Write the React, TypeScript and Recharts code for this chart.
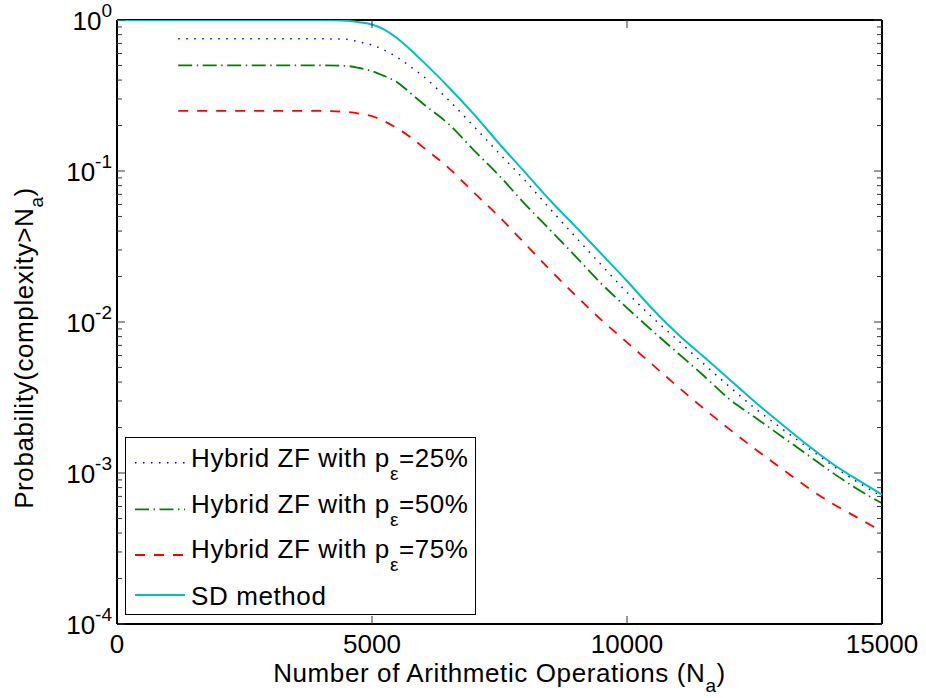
import React from 'react'
import { LineChart, Line, XAxis, YAxis, Legend } from 'recharts'

// number of arithmetic operations (x)
const ops = [
  0, 500, 1000, 1200, 1500, 2000, 2500, 3000, 3500, 4000, 4500, 4750, 5000, 5250, 5500, 5750,
  6000, 6500, 7000, 7500, 8000, 8500, 9000, 9500, 10000, 10500, 11000, 11500, 12000, 12500,
  13000, 13500, 14000, 14500, 15000,
]

const sdMethod = [
  1, 1, 1, 1, 1, 1, 1, 1, 1, 1, 0.988, 0.967, 0.933, 0.859, 0.754, 0.638, 0.53, 0.36, 0.237,
  0.151, 0.098, 0.0635, 0.0425, 0.0282, 0.0187, 0.0122, 0.0083, 0.0059, 0.0042, 0.00298, 0.00215,
  0.00157, 0.00117, 0.00091, 0.00072,
]

const hybrid25 = [
  null, null, null, 0.75, 0.75, 0.75, 0.75, 0.75, 0.75, 0.75, 0.745, 0.715, 0.683, 0.63, 0.565,
  0.492, 0.425, 0.295, 0.197, 0.13, 0.0865, 0.0557, 0.0363, 0.0238, 0.0157, 0.0107, 0.00755,
  0.0053, 0.00375, 0.0027, 0.00201, 0.00151, 0.00114, 0.00088, 0.0007,
]

const hybrid50 = [
  null, null, null, 0.5, 0.5, 0.5, 0.5, 0.5, 0.5, 0.5, 0.496, 0.481, 0.459, 0.424, 0.386, 0.329,
  0.279, 0.205, 0.137, 0.0927, 0.0604, 0.0405, 0.027, 0.0179, 0.0124, 0.00873, 0.00621, 0.00442,
  0.0031, 0.00235, 0.00178, 0.00135, 0.00102, 0.00079, 0.00063,
]

const hybrid75 = [
  null, null, null, 0.25, 0.25, 0.25, 0.25, 0.25, 0.25, 0.25, 0.246, 0.24, 0.231, 0.213, 0.191,
  0.168, 0.144, 0.105, 0.0719, 0.0495, 0.033, 0.022, 0.0149, 0.0103, 0.00733, 0.00522, 0.00372,
  0.00268, 0.00196, 0.00145, 0.00109, 0.00082, 0.000635, 0.00051, 0.00041,
]

const xTicks = [0, 5000, 10000, 15000]
const yMajorTicks = [1e-4, 1e-3, 1e-2, 1e-1, 1]
const yMinorTicks = [1e-4, 1e-3, 1e-2, 1e-1].flatMap((d) => [2, 3, 4, 5, 6, 7, 8, 9].map((m) => m * d))
const yTicks = [...yMajorTicks, ...yMinorTicks].sort((a, b) => a - b)

const legendRows = [
  { label: 'Hybrid ZF with p', sub: 'ε', rest: '=25%', color: '#0000FF', dash: '1.5 6.5', width: 1.5 },
  { label: 'Hybrid ZF with p', sub: 'ε', rest: '=50%', color: '#008000', dash: '14 4.5 1.5 4.5', width: 1.8 },
  { label: 'Hybrid ZF with p', sub: 'ε', rest: '=75%', color: '#FF0000', dash: '10 9', width: 1.8 },
  { label: 'SD method', sub: '', rest: '', color: '#00BFBF', dash: undefined, width: 2 },
]

const data = ops.map((x, i) => ({
  x,
  sd: sdMethod[i],
  h25: hybrid25[i],
  h50: hybrid50[i],
  h75: hybrid75[i],
}))

const W = 926
const H = 698
const MARGIN = { top: 20, right: 44, bottom: 0, left: 0 }
const PLOT_TOP = MARGIN.top
const PLOT_RIGHT = W - MARGIN.right

const FONT = '"Liberation Sans", Arial, Helvetica, sans-serif'
const SPACING = 0.6
const TICK_COLOR = '#333'

function EmptyTick() {
  return <g />
}

function XTick(props: any) {
  const { x, y, payload } = props
  const inner = payload.value !== xTicks[0] && payload.value !== xTicks[xTicks.length - 1]
  return (
    <g>
      {inner && (
        <>
          <line x1={x} x2={x} y1={y} y2={y - 8} stroke={TICK_COLOR} strokeWidth={1} />
          <line x1={x} x2={x} y1={PLOT_TOP} y2={PLOT_TOP + 8} stroke={TICK_COLOR} strokeWidth={1} />
        </>
      )}
      <text x={x} y={y + 29} textAnchor="middle" fontSize={26} fontFamily={FONT} fill="#000">
        {payload.value}
      </text>
    </g>
  )
}

function YTick(props: any) {
  const { x, y, payload } = props
  const major = yMajorTicks.includes(payload.value)
  const len = major ? 8 : 5
  const exp = Math.round(Math.log10(payload.value))
  return (
    <g>
      <line x1={x} x2={x + len} y1={y} y2={y} stroke={TICK_COLOR} strokeWidth={1} />
      <line x1={PLOT_RIGHT} x2={PLOT_RIGHT - len} y1={y} y2={y} stroke={TICK_COLOR} strokeWidth={1} />
      {major && (
        <text x={x - 5} y={y + 10} textAnchor="end" fontSize={26} fontFamily={FONT} fill="#000">
          10
          <tspan dy={-13} fontSize={19}>
            {exp}
          </tspan>
        </text>
      )}
    </g>
  )
}

function XTitle(props: any) {
  const { viewBox } = props
  const cx = viewBox.x + viewBox.width / 2
  const by = viewBox.y + 58
  return (
    <text
      x={cx}
      y={by}
      textAnchor="middle"
      fontSize={26}
      letterSpacing={SPACING}
      fontFamily={FONT}
      fill="#000"
    >
      Number of Arithmetic Operations (N
      <tspan dy={10} fontSize={19}>a</tspan>
      <tspan dy={-10}>)</tspan>
    </text>
  )
}

function YTitle(props: any) {
  const { viewBox } = props
  const cy = viewBox.y + viewBox.height / 2 + 26
  const tx = viewBox.x + 33
  return (
    <text
      x={tx}
      y={cy}
      transform={`rotate(-90 ${tx} ${cy})`}
      textAnchor="middle"
      fontSize={26}
      letterSpacing={SPACING}
      fontFamily={FONT}
      fill="#000"
    >
      Probability(complexity&gt;N
      <tspan dy={10} fontSize={19}>a</tspan>
      <tspan dy={-10}>)</tspan>
    </text>
  )
}

function LegendBox() {
  const lineY = [25.7, 72.3, 118, 158]
  const textY = [29.7, 75.7, 121.3, 168]
  return (
    <svg width={351} height={178} style={{ display: 'block' }}>
      <rect x={0.5} y={0.5} width={350} height={177} fill="#fff" stroke="#000" strokeWidth={1} />
      {legendRows.map((r, i) => (
        <g key={i}>
          <line
            x1={10}
            x2={60}
            y1={lineY[i]}
            y2={lineY[i]}
            stroke={r.color}
            strokeWidth={r.width}
            strokeDasharray={r.dash}
          />
          <text
            x={66}
            y={textY[i]}
            fontSize={26}
            letterSpacing={SPACING}
            fontFamily={FONT}
            fill="#000"
          >
            {r.label}
            {r.sub && (
              <tspan dy={13} fontSize={19}>
                {r.sub}
              </tspan>
            )}
            {r.rest && <tspan dy={-13}>{r.rest}</tspan>}
          </text>
        </g>
      ))}
    </svg>
  )
}

const frame = { stroke: '#000', strokeWidth: 2 }

export default function App() {
  return (
    <div style={{ position: 'absolute', left: 0, top: 0, width: W, height: H, background: '#fff' }}>
      <LineChart width={W} height={H} data={data} margin={MARGIN}>
        <XAxis
          xAxisId="x"
          dataKey="x"
          type="number"
          domain={[0, 15000]}
          ticks={xTicks}
          height={74}
          tickSize={0}
          tickMargin={0}
          tickLine={false}
          axisLine={frame}
          tick={<XTick />}
          interval={0}
          label={<XTitle />}
        />
        <XAxis
          xAxisId="xt"
          orientation="top"
          mirror
          type="number"
          domain={[0, 15000]}
          height={1}
          tick={<EmptyTick />}
          tickLine={false}
          axisLine={frame}
        />
        <YAxis
          yAxisId="y"
          type="number"
          scale="log"
          domain={[1e-4, 1]}
          allowDataOverflow
          ticks={yTicks}
          interval={0}
          width={117}
          tickSize={0}
          tickMargin={0}
          tickLine={false}
          axisLine={frame}
          tick={<YTick />}
          label={<YTitle />}
        />
        <YAxis
          yAxisId="yr"
          orientation="right"
          mirror
          type="number"
          scale="log"
          domain={[1e-4, 1]}
          allowDataOverflow
          width={1}
          tick={<EmptyTick />}
          tickLine={false}
          axisLine={frame}
        />
        <Line
          xAxisId="x"
          yAxisId="y"
          type="monotone"
          dataKey="h25"
          stroke="#0000FF"
          strokeWidth={1.5}
          strokeDasharray="1.5 6.5"
          dot={false}
          isAnimationActive={false}
        />
        <Line
          xAxisId="x"
          yAxisId="y"
          type="monotone"
          dataKey="h50"
          stroke="#008000"
          strokeWidth={1.8}
          strokeDasharray="14 4.5 1.5 4.5"
          dot={false}
          isAnimationActive={false}
        />
        <Line
          xAxisId="x"
          yAxisId="y"
          type="monotone"
          dataKey="h75"
          stroke="#FF0000"
          strokeWidth={1.8}
          strokeDasharray="10 9"
          dot={false}
          isAnimationActive={false}
        />
        <Line
          xAxisId="x"
          yAxisId="y"
          type="monotone"
          dataKey="sd"
          stroke="#00BFBF"
          strokeWidth={2}
          dot={false}
          isAnimationActive={false}
          {...({ zIndex: 600 } as any)}
        />
        <Legend
          layout="vertical"
          verticalAlign="middle"
          align="center"
          wrapperStyle={{ position: 'absolute', left: 125, top: 437, width: 351, height: 178 }}
          content={() => <LegendBox />}
        />
      </LineChart>
    </div>
  )
}
